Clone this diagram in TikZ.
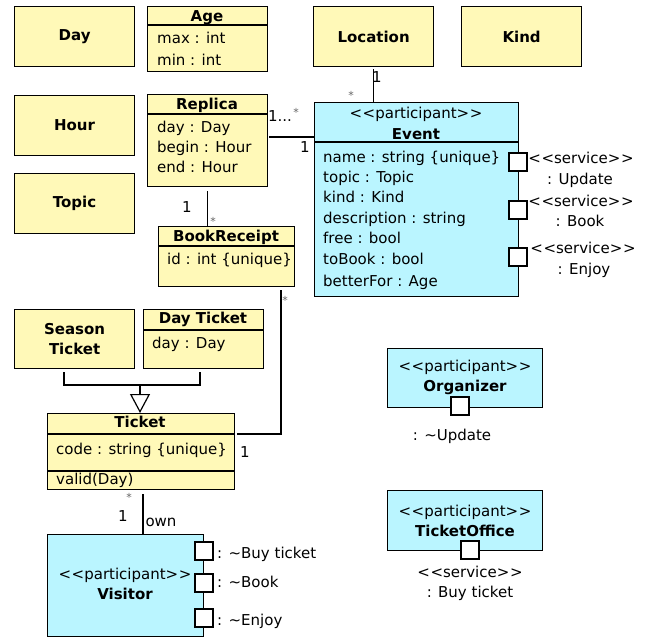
\documentclass[tikz,border=0pt]{standalone}
\usepackage{fontspec}
\setmainfont{DejaVu Sans}
\usetikzlibrary{arrows.meta}
\definecolor{umlyellow}{HTML}{FFF9B8}
\definecolor{umlcyan}{HTML}{BAF5FF}
% stereotype brackets kept as separate < and > characters
\newcommand\stereo[1]{<\kern0.6pt<#1>\kern0.6pt>}

\begin{document}
\begin{tikzpicture}[x=1pt,y=-1pt,
  every node/.style={font=\fontsize{15}{21}\selectfont},
  box/.style={draw, line width=1.2pt, inner sep=0pt, anchor=north west},
  ybox/.style={box, fill=umlyellow},
  cbox/.style={box, fill=umlcyan},
  port/.style={draw, fill=white, line width=1.2pt, minimum size=18pt, inner sep=0pt},
  lbl/.style={inner sep=0pt, text height=11pt, text depth=3pt},
  star/.style={inner sep=0pt, font=\fontsize{11}{13}\selectfont, text=black!60},
  attr/.style={lbl, anchor=west},
  title/.style={lbl, font=\fontsize{15}{21}\selectfont\bfseries},
  btext/.style={font=\fontsize{15}{20}\selectfont\bfseries, align=center},
  sep/.style={line width=1.2pt},
  conn/.style={line width=1.2pt},
]
\useasboundingbox (0,0) rectangle (646,637);

% ---- plain data types
\node[ybox, minimum width=120pt, minimum height=60pt, btext] (day) at (14,6) {Day};
\node[ybox, minimum width=120pt, minimum height=60pt, btext] (hour) at (14,95) {Hour};
\node[ybox, minimum width=120pt, minimum height=60pt, btext] (topic) at (14,173) {Topic};
\node[ybox, minimum width=120pt, minimum height=60pt, btext] (location) at (313,6) {Location};
\node[ybox, minimum width=120pt, minimum height=60pt, btext] (kind) at (461,6) {Kind};

% ---- Age
\node[ybox, minimum width=120pt, minimum height=65pt] (age) at (147,6) {};
\node[title] at (207,17) {Age};
\draw[sep] (age.west |- 0,25) -- (age.east |- 0,25);
\node[attr] at (157,39) {max : int};
\node[attr] at (157,61) {min : int};

% ---- Replica
\node[ybox, minimum width=120pt, minimum height=92pt] (replica) at (147,94) {};
\node[title] at (207,105) {Replica};
\draw[sep] (replica.west |- 0,114) -- (replica.east |- 0,114);
\node[attr] at (157,128) {day : Day};
\node[attr] at (157,148) {begin : Hour};
\node[attr] at (157,168) {end : Hour};

% ---- BookReceipt
\node[ybox, minimum width=136pt, minimum height=60pt] (bookreceipt) at (158,226) {};
\node[title] at (226,237) {BookReceipt};
\draw[sep] (bookreceipt.west |- 0,246) -- (bookreceipt.east |- 0,246);
\node[attr] at (167,260) {id : int \{unique\}};

% ---- Event
\node[cbox, minimum width=204pt, minimum height=194pt] (event) at (314,102) {};
\node[lbl] at (416,114) {\stereo{participant}};
\node[title] at (416,135) {Event};
\draw[sep] (event.west |- 0,142) -- (event.east |- 0,142);
\node[attr] at (323,158) {name : string \{unique\}};
\node[attr] at (323,178) {topic : Topic};
\node[attr] at (323,198) {kind : Kind};
\node[attr] at (323,219) {description : string};
\node[attr] at (323,239) {free : bool};
\node[attr] at (323,260) {toBook : bool};
\node[attr] at (323,282) {betterFor : Age};

\node[port] (evupdate) at (518,162) {};
\node[port] (evbook) at (518,210) {};
\node[port] (evenjoy) at (518,257) {};
\node[lbl] at (581,159) {\stereo{service}};
\node[lbl] at (580,180) {: Update};
\node[lbl] at (581,202) {\stereo{service}};
\node[lbl] at (580,222) {: Book};
\node[lbl] at (583,249) {\stereo{service}};
\node[lbl] at (584,270) {: Enjoy};

% ---- tickets
\node[ybox, minimum width=120pt, minimum height=59pt, btext] (season) at (14,309) {Season\\Ticket};
\node[ybox, minimum width=120pt, minimum height=59pt] (dayticket) at (143,309) {};
\node[title] at (203,319) {Day Ticket};
\draw[sep] (dayticket.west |- 0,330) -- (dayticket.east |- 0,330);
\node[attr] at (152,344) {day : Day};

\node[ybox, minimum width=187pt, minimum height=76pt] (ticket) at (47,413) {};
\node[title] at (140,423) {Ticket};
\draw[sep] (ticket.west |- 0,434) -- (ticket.east |- 0,434);
\node[attr] at (56,450) {code : string \{unique\}};
\draw[sep] (ticket.west |- 0,471) -- (ticket.east |- 0,471);
\node[attr] at (56,480) {valid(Day)};

% ---- participants
\node[cbox, minimum width=156pt, minimum height=102pt] (visitor) at (47,534) {};
\node[lbl] at (125,575) {\stereo{participant}};
\node[title] at (125,595) {Visitor};
\node[port] (vibuy) at (204,551) {};
\node[port] (vibook) at (204,583) {};
\node[port] (vienjoy) at (204,618) {};
\node[attr] at (217,554) {: \textasciitilde Buy ticket};
\node[attr] at (217,583) {: \textasciitilde Book};
\node[attr] at (217,621) {: \textasciitilde Enjoy};

\node[cbox, minimum width=155pt, minimum height=59pt] (organizer) at (387,348) {};
\node[lbl] at (465,367) {\stereo{participant}};
\node[title] at (465,387) {Organizer};
\node[port] (orgupdate) at (460,406) {};
\node[lbl] at (452,436) {: \textasciitilde Update};

\node[cbox, minimum width=155pt, minimum height=60pt] (ticketoffice) at (387,490) {};
\node[lbl] at (465,512) {\stereo{participant}};
\node[title] at (465,532) {TicketOffice};
\node[port] (tobuy) at (470,550) {};
\node[lbl] at (470,573) {\stereo{service}};
\node[lbl] at (470,593) {: Buy ticket};

% ---- associations
\draw[conn, shorten <=2pt] (location.south) -- (location.south |- event.north);
\node[lbl] at (377,78) {1};
\node[star] at (351,95) {*};

\coordinate (reline) at (0,137);
\draw[conn, shorten <=1pt] (replica.east |- reline) -- (event.west |- reline);
\node[lbl] at (280,117) {1...};
\node[star] at (296,112) {*};
\node[lbl] at (305,148) {1};

\draw[conn, shorten <=4pt] (replica.south) -- (replica.south |- bookreceipt.north);
\node[lbl] at (187,208) {1};
\node[star] at (213,221) {*};

\coordinate (brt) at (281,434);
\draw[conn, shorten <=3pt, shorten >=2pt] (bookreceipt.south -| brt) |- (ticket.east |- brt);
\node[star] at (285,300) {*};
\node[lbl] at (245,453) {1};

\coordinate (tv) at (143,0);
\draw[conn, shorten <=4pt] (ticket.south -| tv) -- (visitor.north -| tv);
\node[star] at (129,497) {*};
\node[lbl] at (123,517) {1};
\node[lbl] at (161,522) {own};

% ---- generalization
\coordinate (gj) at (140,385);
\draw[conn, shorten <=3pt] (season.south -| 64,0) |- (gj);
\draw[conn, shorten <=3pt] (dayticket.south -| 200,0) |- (gj);
\draw[conn, -{Triangle[open, length=19pt, width=20pt, fill=white]}] (gj) -- (ticket.north -| gj);
\end{tikzpicture}
\end{document}
